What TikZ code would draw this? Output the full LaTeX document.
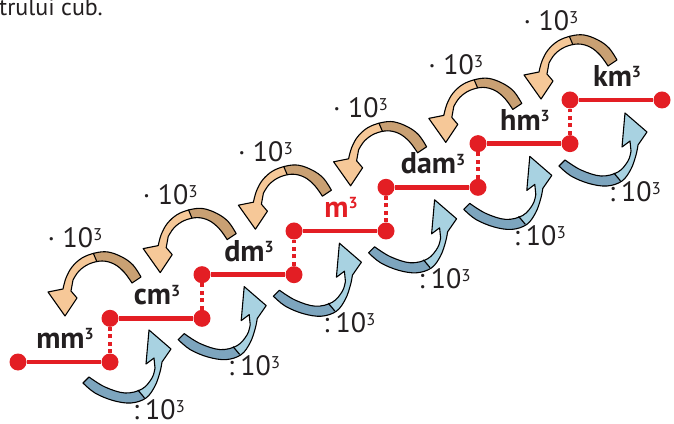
\documentclass[tikz,border=0pt]{standalone}
\usepackage{fontspec}
\setmainfont{PT Sans}
\definecolor{myred}{HTML}{E31E24}
\definecolor{otan}{HTML}{C9A073}
\definecolor{olight}{HTML}{F6C898}
\definecolor{bdark}{HTML}{7DA5BE}
\definecolor{blight}{HTML}{A8D2E1}
\definecolor{ink}{HTML}{231F20}
\newcommand\mysupthree{\raisebox{7pt}{\fontsize{17}{17}\selectfont 3}}
\newcommand\mybsupthree{\raisebox{8.5pt}{\fontsize{16}{16}\selectfont\bfseries 3}}
\newcommand\myoshape[1]{\path[#1] plot[smooth, tension=0.6] coordinates {(123,85) (115,97) (104,105) (90,110) (77,109) (64,104) (54,95) (48,84) (45,73)} -- (30,70) -- (47,46) -- (59,64) -- (53,71) -- plot[smooth, tension=0.6] coordinates {(55,82) (61,91) (71,98) (84,101) (96,98) (106,90) (114,79)} -- cycle;}
\newcommand\mybshape[1]{\path[#1] plot[smooth, tension=0.6] coordinates {(65,-21) (77,-31) (95,-38.5) (113,-41) (128,-36) (137,-24) (142,-10) (144,0)} -- (153,13) -- (131,32) -- (128,-2) -- (136,4) -- plot[smooth, tension=0.6] coordinates {(137,-6) (134,-16) (124,-27) (107,-31) (87,-25) (71,-15)} -- cycle;}
\tikzset{
  reddot/.style={circle, fill=myred, minimum size=17pt, inner sep=0pt},
  redline/.style={myred, line width=4.5pt},
  reddash/.style={myred, line width=4.5pt, dash pattern=on 4pt off 3.5pt},
  unitlabel/.style={font=\fontsize{30}{32}\selectfont\bfseries, text=ink, anchor=base, inner sep=0pt},
  factor/.style={font=\fontsize{28}{30}\selectfont, text=ink, anchor=base, inner sep=0pt, text depth=0pt},
  outl/.style={draw=black, line width=1.1pt, line join=round},
  uparrow/.pic={
    \myoshape{fill=olight}
    \begin{scope}
      \clip (71,117) -- (140,117) -- (140,70) -- (90,70) -- (85,89) -- cycle;
      \myoshape{fill=otan}
    \end{scope}
    \draw[outl] (75.2,109) -- (78.8,100.5);
    \myoshape{outl}
  },
  downarrow/.pic={
    \mybshape{fill=blight}
    \begin{scope}
      \clip (40,-60) -- (136,-60) -- (128,-37) -- (114,-19) -- (40,2) -- cycle;
      \mybshape{fill=bdark}
    \end{scope}
    \draw[outl] (126.4,-35.8) -- (119.8,-28);
    \mybshape{outl}
  }
}
\begin{document}
\begin{tikzpicture}[x=1pt,y=1pt]
\useasboundingbox (0,0) rectangle (674,423);
\clip (0,0) rectangle (674,423);
\node[font=\fontsize{24}{26}\selectfont, text=ink, anchor=base west, inner sep=0pt] (title) at (-1,407) {trului cub.};
% arrows
\foreach \i in {0,...,5}{
  \pic (up\i) at ({18+95.2*\i},{61+43.4*\i}) {uparrow};
  \pic (down\i) at ({18+95.2*\i},{61+43.4*\i}) {downarrow};
}
\foreach \i in {0,...,5}{
  \node[factor] (mul\i) at ({18+95.2*\i+57},{61+43.4*\i+114}) {· 10\mysupthree};
  \node[factor] (div\i) at ({18+95.2*\i+141},{61+43.4*\i-57}) {:\hspace{6pt}10\mysupthree};
}
% steps
\foreach \i in {0,...,6}{
  \node[reddot] (l\i) at ({18+92*\i},{61+43.67*\i}) {};
  \node[reddot] (r\i) at ({110+92*\i},{61+43.67*\i}) {};
  \draw[redline] (l\i) -- (r\i);
}
\foreach \i [evaluate=\i as \j using int(\i+1)] in {0,...,5}{
  \draw[reddash] (r\i) -- (l\j);
}
\node[unitlabel] (u0) at ({65+92*0},{61+43.67*0+13.5}) {mm\mybsupthree};
\node[unitlabel] (u1) at ({65+92*1},{61+43.67*1+13.5}) {cm\mybsupthree};
\node[unitlabel] (u2) at ({65+92*2},{61+43.67*2+13.5}) {dm\mybsupthree};
\node[unitlabel, text=myred] (u3) at ({65+92*3},{61+43.67*3+13.5}) {m\mybsupthree};
\node[unitlabel] (u4) at ({65+92*4},{61+43.67*4+13.5}) {dam\mybsupthree};
\node[unitlabel] (u5) at ({65+92*5},{61+43.67*5+13.5}) {hm\mybsupthree};
\node[unitlabel] (u6) at ({65+92*6},{61+43.67*6+13.5}) {km\mybsupthree};
\end{tikzpicture}
\end{document}
